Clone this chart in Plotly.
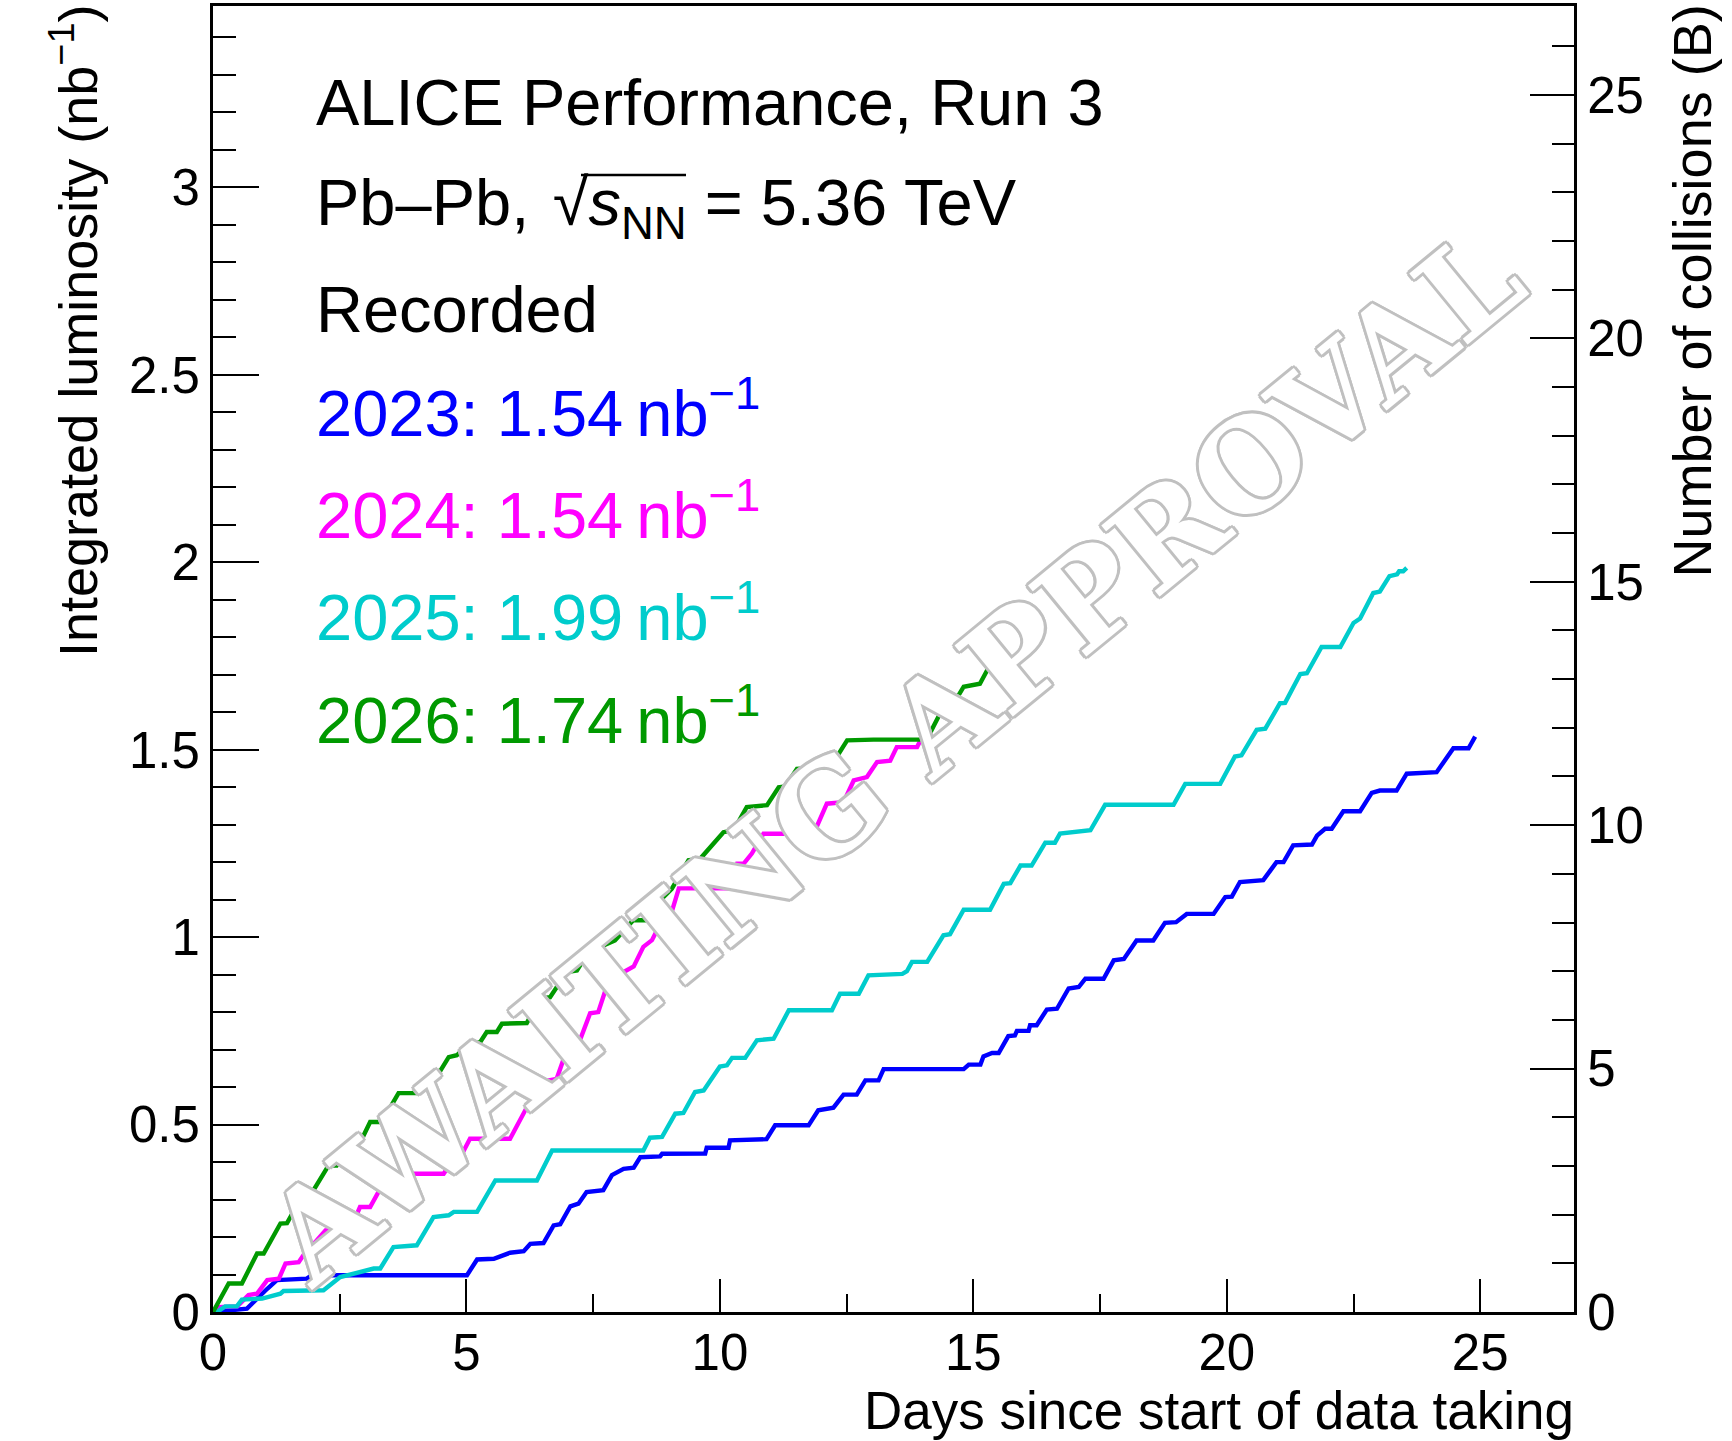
import plotly.graph_objects as go

# ---------------- data ----------------
days_2023 = [0, 0.67, 1.07, 1.26, 1.85, 1.95, 5.01, 5.21, 5.54, 5.86, 6.13, 6.26, 6.52, 6.72, 6.85,
             7.05, 7.21, 7.37, 7.7, 7.87, 8.1, 8.3, 8.43, 8.82, 8.86, 9.71, 9.74, 10.17, 10.2, 10.92,
             11.09, 11.75, 11.94, 12.24, 12.44, 12.7, 12.87, 13.13, 13.23, 14.81, 14.91, 15.14, 15.2,
             15.37, 15.5, 15.69, 15.82, 15.86, 16.09, 16.12, 16.25, 16.45, 16.65, 16.88, 17.08, 17.21,
             17.57, 17.77, 17.97, 18.22, 18.55, 18.78, 19.0, 19.1, 19.21, 19.74, 19.97, 20.1, 20.26,
             20.72, 20.98, 21.12, 21.31, 21.68, 21.78, 21.94, 22.07, 22.3, 22.63, 22.86, 23.02, 23.35,
             23.55, 24.14, 24.47, 24.77, 24.9]
lumi_2023 = [0, 0.009, 0.062, 0.085, 0.089, 0.098, 0.098, 0.14, 0.142, 0.158, 0.162, 0.182, 0.184,
             0.231, 0.234, 0.282, 0.289, 0.32, 0.325, 0.365, 0.382, 0.385, 0.413, 0.415, 0.422, 0.4225,
             0.438, 0.438, 0.458, 0.461, 0.498, 0.498, 0.538, 0.545, 0.58, 0.58, 0.618, 0.618, 0.648,
             0.648, 0.66, 0.66, 0.682, 0.691, 0.691, 0.736, 0.738, 0.75, 0.75, 0.765, 0.765, 0.807,
             0.809, 0.863, 0.867, 0.889, 0.889, 0.938, 0.942, 0.991, 0.991, 1.038, 1.04, 1.05, 1.062,
             1.062, 1.107, 1.108, 1.147, 1.152, 1.2, 1.2, 1.245, 1.247, 1.271, 1.289, 1.289, 1.336,
             1.336, 1.385, 1.391, 1.391, 1.436, 1.44, 1.504, 1.504, 1.535]

days_2024 = [0, 0.1, 0.48, 0.7, 0.87, 1.07, 1.3, 1.43, 1.69, 1.89, 2.02, 2.22, 2.71, 2.9, 3.1, 3.3,
             3.5, 4.55, 4.75, 4.88, 5.07, 5.86, 6.16, 6.32, 6.52, 6.78, 6.98, 7.18, 7.44, 7.6, 7.83,
             8.05, 8.3, 8.49, 8.66, 8.86, 9.02, 9.19, 10.17, 10.34, 10.47, 10.63, 10.86, 11.85, 12.11,
             12.44, 12.64, 12.9, 13.1, 13.36, 13.49, 13.89, 14.02]
lumi_2024 = [0, 0.013, 0.015, 0.045, 0.049, 0.085, 0.089, 0.129, 0.133, 0.173, 0.187, 0.218, 0.222,
             0.28, 0.28, 0.329, 0.369, 0.369, 0.409, 0.413, 0.462, 0.462, 0.538, 0.543, 0.615, 0.622,
             0.699, 0.704, 0.797, 0.8, 0.894, 0.903, 0.922, 0.974, 0.992, 1.045, 1.054, 1.13, 1.13,
             1.196, 1.196, 1.223, 1.276, 1.276, 1.356, 1.36, 1.418, 1.427, 1.467, 1.471, 1.507,
             1.507, 1.542]

days_2025 = [0, 0.08, 0.24, 0.47, 0.57, 0.97, 1.33, 1.39, 2.18, 2.51, 3.17, 3.3, 3.56, 4.02, 4.35,
             4.65, 4.75, 5.21, 5.57, 6.39, 6.69, 8.49, 8.62, 8.86, 9.12, 9.28, 9.51, 9.68, 10.0, 10.14,
             10.24, 10.5, 10.73, 11.06, 11.36, 12.21, 12.37, 12.74, 12.93, 13.6, 13.69, 13.79, 14.09,
             14.41, 14.54, 14.81, 15.33, 15.6, 15.73, 15.93, 16.15, 16.42, 16.61, 16.71, 17.31, 17.6,
             18.95, 19.18, 19.87, 20.16, 20.29, 20.59, 20.76, 21.05, 21.15, 21.45, 21.58, 21.87, 22.24,
             22.5, 22.63, 22.89, 23.02, 23.21, 23.36, 23.4, 23.48, 23.55]
lumi_2025 = [0, 0.0, 0.015, 0.015, 0.033, 0.036, 0.049, 0.056, 0.058, 0.093, 0.116, 0.116, 0.173,
             0.178, 0.253, 0.258, 0.267, 0.267, 0.351, 0.351, 0.431, 0.431, 0.465, 0.467, 0.529, 0.531,
             0.587, 0.591, 0.655, 0.658, 0.678, 0.678, 0.725, 0.729, 0.805, 0.805, 0.849, 0.849, 0.898,
             0.902, 0.909, 0.934, 0.934, 1.005, 1.008, 1.073, 1.073, 1.142, 1.144, 1.191, 1.191, 1.252,
             1.252, 1.276, 1.285, 1.353, 1.353, 1.409, 1.409, 1.482, 1.485, 1.553, 1.556, 1.624, 1.625,
             1.702, 1.704, 1.774, 1.774, 1.838, 1.85, 1.918, 1.922, 1.963, 1.968, 1.976, 1.976, 1.985]

days_2026 = [0, 0.31, 0.57, 0.74, 0.87, 1.0, 1.33, 1.46, 1.75, 1.92, 2.28, 2.44, 2.77, 2.94, 3.1, 3.33,
             3.66, 4.02, 4.09, 4.32, 4.65, 4.81, 5.05, 5.27, 5.4, 5.6, 5.7, 6.19, 6.46, 6.65, 6.98,
             7.18, 7.47, 7.71, 7.93, 8.29, 8.56, 8.82, 9.05, 9.38, 9.61, 10.07, 10.27, 10.53, 10.93,
             11.16, 11.29, 11.52, 12.18, 12.51, 13.03, 14.08, 14.41, 14.61, 14.81, 15.13, 15.36]
lumi_2026 = [0, 0.076, 0.076, 0.125, 0.156, 0.156, 0.236, 0.237, 0.307, 0.311, 0.391, 0.391, 0.458,
             0.462, 0.507, 0.507, 0.584, 0.584, 0.605, 0.607, 0.68, 0.685, 0.716, 0.72, 0.747, 0.747,
             0.769, 0.771, 0.836, 0.84, 0.907, 0.911, 0.974, 0.978, 0.991, 1.045, 1.045, 1.098, 1.129,
             1.205, 1.209, 1.28, 1.285, 1.347, 1.352, 1.4, 1.402, 1.449, 1.454, 1.525, 1.527, 1.527,
             1.614, 1.623, 1.668, 1.676, 1.734]

series_names = ["2023", "2024", "2025", "2026"]
series_totals = ["1.54", "1.54", "1.99", "1.74"]
series_colors = ["#0000ff", "#ff00ff", "#00cccc", "#009900"]

x_tickvals = [0, 5, 10, 15, 20, 25]
y_tickvals = [0, 0.5, 1, 1.5, 2, 2.5, 3]
y2_tickvals = [0, 5, 10, 15, 20, 25]

x_max = 26.85
y_max = 3.484
collisions_per_nb = 7.7  # right-axis scale factor (B per nb^-1)

FONT = "Liberation Sans"

fig = go.Figure()
all_days = [days_2023, days_2024, days_2025, days_2026]
all_lumi = [lumi_2023, lumi_2024, lumi_2025, lumi_2026]
for name, d, l, c in zip(series_names, all_days, all_lumi, series_colors):
    fig.add_trace(go.Scatter(x=d, y=l, mode="lines", name=name,
                             line=dict(color=c, width=4.4), showlegend=False,
                             hoverinfo="skip"))
# empty trace so the right-hand axis exists
fig.add_trace(go.Scatter(x=[None], y=[None], yaxis="y2", mode="lines",
                         showlegend=False, hoverinfo="skip"))

W, H = 1732, 1441
ml, mr, mt, mb = 213, 158, 6, 129

fig.update_layout(
    width=W, height=H,
    margin=dict(l=ml, r=mr, t=mt, b=mb, pad=0, autoexpand=False),
    paper_bgcolor="white", plot_bgcolor="white",
    font=dict(family=FONT, color="black"),
    showlegend=False,
    xaxis=dict(range=[0, x_max], tickvals=x_tickvals, ticks="inside", ticklen=33, tickwidth=2,
               tickcolor="black", showline=True, linewidth=3, linecolor="black", mirror=True,
               showgrid=False, zeroline=False, tickfont=dict(size=51, family=FONT),
               ticklabelstandoff=-6, automargin=False,
               minor=dict(dtick=2.5, ticks="inside", ticklen=18, tickwidth=2, tickcolor="black",
                          showgrid=False)),
    yaxis=dict(range=[0, y_max], tickvals=y_tickvals, ticks="inside", ticklen=46, tickwidth=2,
               tickcolor="black", showline=True, linewidth=3, linecolor="black",
               showgrid=False, zeroline=False, tickfont=dict(size=51, family=FONT),
               ticklabelstandoff=0, automargin=False,
               minor=dict(dtick=0.1, ticks="inside", ticklen=23, tickwidth=2, tickcolor="black",
                          showgrid=False)),
    yaxis2=dict(range=[0, y_max * collisions_per_nb], tickvals=y2_tickvals, overlaying="y",
                side="right", ticks="inside", ticklen=44, tickwidth=2, tickcolor="black",
                showline=True, linewidth=3, linecolor="black", showgrid=False, zeroline=False,
                tickfont=dict(size=51, family=FONT), ticklabelstandoff=0, automargin=False,
                minor=dict(dtick=1, ticks="inside", ticklen=22, tickwidth=2, tickcolor="black",
                           showgrid=False)),
)

pw = W - ml - mr
ph = H - mt - mb


def px(xpage):
    return (xpage - ml) / pw


def py(ypage):
    return (H - mb - ypage) / ph


TXT = 65
annotations = []
text_x = px(314)
lines = [("ALICE Performance, Run 3", "black", 103),
         ("Pb\u2013Pb, \u200a\u221a<i>s</i><sub>NN</sub> = 5.36 TeV", "black", 207),
         ("Recorded", "black", 309)]
ys = [409, 511, 613, 716]
for name, tot, c, yy in zip(series_names, series_totals, series_colors, ys):
    lines.append((f"{name}: {tot}\u2009nb<sup>\u22121</sup>", c, yy))
for t, c, yy in lines:
    annotations.append(dict(text=t, x=text_x, y=py(yy), xref="paper", yref="paper",
                            xanchor="left", yanchor="middle", showarrow=False,
                            font=dict(size=TXT, color=c, family=FONT)))

# axis titles
annotations.append(dict(text="Integrated luminosity (nb<sup>\u22121</sup>)", x=px(74), y=py(3),
                        xref="paper", yref="paper", xanchor="center", yanchor="top",
                        textangle=-90, showarrow=False, font=dict(size=54, family=FONT)))
annotations.append(dict(text="Number of collisions (B)", x=px(1692), y=py(3),
                        xref="paper", yref="paper", xanchor="center", yanchor="top",
                        textangle=-90, showarrow=False, font=dict(size=54, family=FONT)))
annotations.append(dict(text="Days since start of data taking", x=px(1576), y=py(1410),
                        xref="paper", yref="paper", xanchor="right", yanchor="middle",
                        showarrow=False, font=dict(size=53, family=FONT)))

# watermark
g = "#c0c0c0"
d, e = 3, 2.2
shadow = ", ".join([f"{d}px 0px 0px {g}", f"-{d}px 0px 0px {g}", f"0px {d}px 0px {g}",
                    f"0px -{d}px 0px {g}", f"{e}px {e}px 0px {g}", f"-{e}px {e}px 0px {g}",
                    f"{e}px -{e}px 0px {g}", f"-{e}px -{e}px 0px {g}"])
annotations.append(dict(text="AWAITING APPROVAL", x=px(894), y=py(757), xref="paper", yref="paper",
                        xanchor="center", yanchor="middle", textangle=-39.3, showarrow=False,
                        font=dict(size=126, family="DejaVu Serif", color="white",
                                  weight="bold", shadow=shadow)))

fig.update_layout(annotations=annotations)

# overline of the square root
fig.add_shape(type="line", xref="paper", yref="paper", x0=px(581), x1=px(686), y0=py(175),
              y1=py(175), line=dict(color="black", width=2.5))

# the page's default 8 px body margin is removed so the figure fills the window exactly
fig.write_html("out.html", config={"displayModeBar": False},
               post_script="document.body.style.margin='0px';")
